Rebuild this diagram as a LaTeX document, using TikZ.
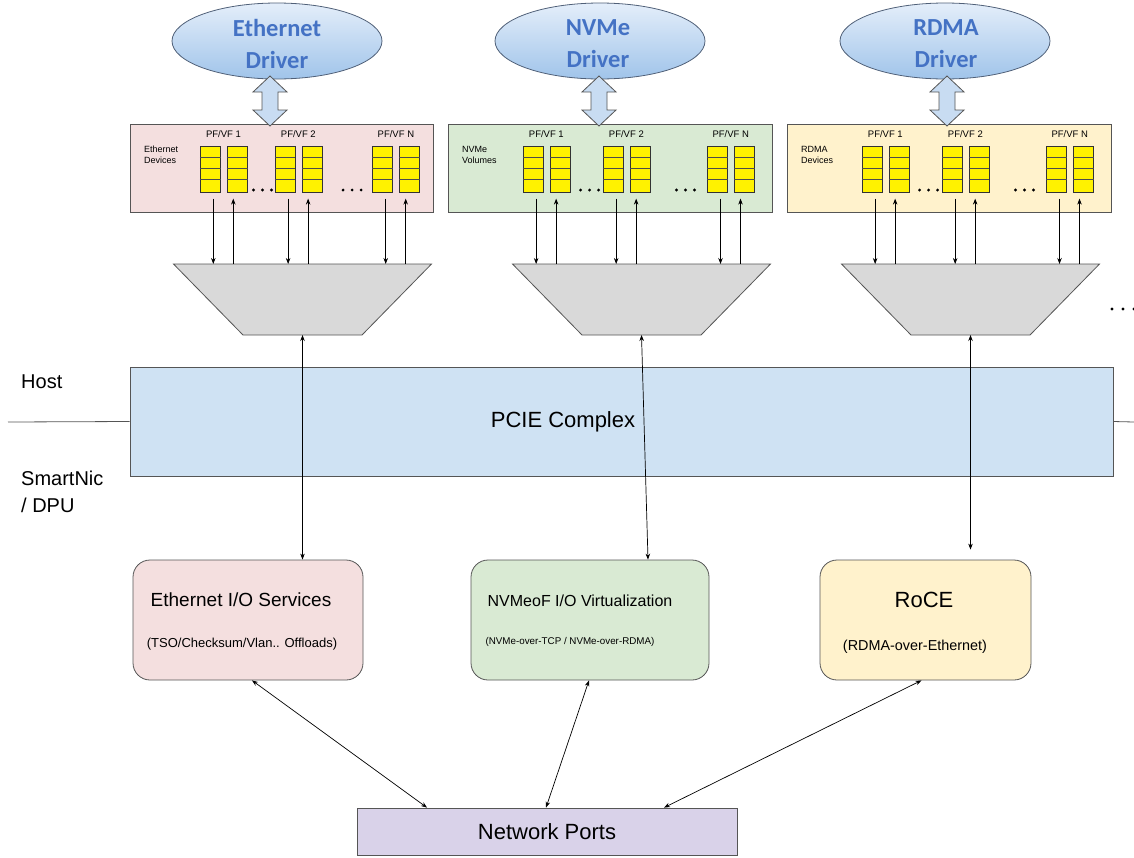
\documentclass[tikz,border=0pt]{standalone}
\usepackage{fontspec}
\setmainfont{Liberation Sans}
\newfontfamily\drvfont{Carlito}
\usetikzlibrary{arrows.meta,calc,shapes.geometric}

\definecolor{edge}{RGB}{85,85,85}
\definecolor{ethfill}{RGB}{244,223,223}
\definecolor{nvmfill}{RGB}{217,234,211}
\definecolor{rdmfill}{RGB}{255,242,204}
\definecolor{pciefill}{RGB}{207,226,243}
\definecolor{portfill}{RGB}{217,210,233}
\definecolor{muxfill}{RGB}{217,217,217}
\definecolor{drvtop}{RGB}{228,238,250}
\definecolor{drvbot}{RGB}{160,196,234}
\definecolor{drvtext}{RGB}{68,114,196}
\definecolor{drvline}{RGB}{80,96,120}
\definecolor{barfill}{RGB}{200,220,242}

\tikzset{
  drv/.style={ellipse, draw=drvline, line width=0.8pt, top color=drvtop,
    bottom color=drvbot, minimum width=210, minimum height=76, inner sep=0},
  drvtxt/.style={text=drvtext, align=center, inner sep=0,
    font=\drvfont\bfseries\fontsize{24.5}{32}\selectfont},
  devbox/.style={draw=edge, line width=0.8pt, anchor=north west, inner sep=0,
    minimum height=88},
  queue/.style={draw=black!80, fill=yellow, line width=0.6pt, anchor=north west,
    inner sep=0, minimum width=20, minimum height=46},
  cell/.style={draw=black!70, line width=0.5pt},
  tinytxt/.style={font=\fontsize{9}{11}\selectfont, align=left, inner sep=0},
  pftxt/.style={font=\fontsize{9.5}{11}\selectfont, inner sep=0},
  mux/.style={draw=edge, fill=muxfill, line width=0.8pt},
  bar/.style={draw=edge, fill=barfill, line width=0.8pt, line join=miter},
  conn/.style={line width=0.7pt, -{Stealth[length=6pt,width=4.5pt]}},
  biconn/.style={line width=0.7pt, {Stealth[length=6pt,width=4.5pt]}-{Stealth[length=6pt,width=4.5pt]}},
  svc/.style={draw=edge, line width=0.8pt, rounded corners=17, minimum height=120,
    inner sep=0},
  plainbox/.style={draw=edge, line width=0.8pt, inner sep=0},
  side/.style={font=\fontsize{20}{27}\selectfont, align=left, inner sep=0, anchor=west},
}

% hollow two-headed arrow between a driver and its device box
\newcommand\busarrow[1]{%
  \filldraw[bar] (#1,76) -- (#1+17,92) -- (#1+8,92) -- (#1+8,110) -- (#1+17,110)
    -- (#1,126) -- (#1-17,110) -- (#1-8,110) -- (#1-8,92) -- (#1-17,92) -- cycle;}

% device box with three queue pairs and the multiplexer below it
% #1 prefix, #2 left x, #3 width, #4 fill, #5 label, #6 mux centre x
\newcommand\devblock[6]{%
  \node[devbox, fill=#4, minimum width=#3] (#1box) at (#2,124) {};
  \node[tinytxt, anchor=north west] (#1lbl) at (#2+14,146) {#5};
  \coordinate (#1mt) at (#6,264);
  \coordinate (#1mb) at (#6,335);
  \filldraw[mux] (#6-129,264) -- (#6+129,264) -- (#6+59.5,335) -- (#6-59.5,335) -- cycle;
  \foreach \f/\n [count=\i] in {0.231/1,0.478/2,0.80/N}{
    \pgfmathsetmacro\qx{#2+\f*#3}
    \node[queue] (#1qa\i) at (\qx,146) {};
    \node[queue] (#1qb\i) at (\qx+27,146) {};
    \foreach \k in {11,22,33}{
      \draw[cell] ([yshift=-\k pt]#1qa\i.north west) -- ([yshift=-\k pt]#1qa\i.north east);
      \draw[cell] ([yshift=-\k pt]#1qb\i.north west) -- ([yshift=-\k pt]#1qb\i.north east);
    }
    \node[pftxt] (#1pf\i) at (\qx+23.5,134) {PF/VF \n};
    \draw[conn, shorten <=6pt] ([xshift=3pt]#1qa\i.south) -- ([xshift=3pt]#1qa\i.south |- #1mt);
    \draw[conn, shorten >=6pt] ([xshift=23pt]#1qa\i.south |- #1mt) -- ([xshift=23pt]#1qa\i.south);
  }
  \foreach \f in {0.437,0.733}{
    \pgfmathsetmacro\dx{#2+\f*#3}
    \foreach \d in {-9,0,9}{ \fill (\dx+\d,190) circle (1.6); }
  }
}

\begin{document}
\begin{tikzpicture}[x=1pt,y=-1pt]
\useasboundingbox (0,0) rectangle (1134,857);

% device groups
\devblock{e}{130}{303}{ethfill}{Ethernet\\Devices}{302.5}
\devblock{n}{448}{324}{nvmfill}{NVMe\\Volumes}{641.5}
\devblock{r}{787}{324}{rdmfill}{RDMA\\Devices}{970.5}

% drivers
\node[drv] (edrv) at (277,41) {};
\node[drv] (ndrv) at (600,41) {};
\node[drv] (rdrv) at (945,41) {};
\node[drvtxt] (edrvt) at (277,44) {Ethernet\\Driver};
\node[drvtxt] (ndrvt) at (598,44) {NVMe\\Driver};
\node[drvtxt] (rdrvt) at (946,44) {RDMA\\Driver};
\busarrow{270}
\busarrow{599}
\busarrow{947}

% more groups to the right
\foreach \d in {1112,1123,1134}{ \fill (\d,309) circle (1.7); }

% PCIe complex and host / DPU boundary
\node[plainbox, fill=pciefill, minimum width=983, minimum height=109] (pcie) at (621.5,421.5) {};
\node[font=\fontsize{22}{26}\selectfont, inner sep=0] (pciet) at (563,422) {PCIE Complex};
\coordinate (hl) at (8,422);
\coordinate (hr) at (1134,422);
\draw[edge, line width=0.8pt] (hl) -- (pcie.west);
\draw[edge, line width=0.8pt] (pcie.east) -- (hr);
\node[side] (host) at (21,382) {Host};
\node[side] (dpu) at (21,492) {SmartNic\\/ DPU};

% offload services
\node[svc, fill=ethfill, minimum width=230] (esvc) at (248,620) {};
\node[font=\fontsize{19}{22}\selectfont, inner sep=0] (esvct) at (241,600) {Ethernet I/O Services};
\node[font=\fontsize{13}{15}\selectfont, inner sep=0] (esvcs) at (242,644) {(TSO/Checksum/Vlan.. Offloads)};

\node[svc, fill=nvmfill, minimum width=238] (nsvc) at (590,620) {};
\node[font=\fontsize{16}{19}\selectfont, inner sep=0] (nsvct) at (580,601) {NVMeoF I/O Virtualization};
\node[font=\fontsize{9.8}{12}\selectfont, inner sep=0] (nsvcs) at (570,642) {(NVMe-over-TCP / NVMe-over-RDMA)};

\node[svc, fill=rdmfill, minimum width=211] (rsvc) at (925.5,620) {};
\node[font=\fontsize{22}{26}\selectfont, inner sep=0] (rsvct) at (924,600) {RoCE};
\node[font=\fontsize{14.4}{17}\selectfont, inner sep=0] (rsvcs) at (915,647) {(RDMA-over-Ethernet)};

% network ports
\node[plainbox, fill=portfill, minimum width=380, minimum height=47,
  font=\fontsize{22}{26}\selectfont] (np) at (547,831.5) {Network Ports};

% multiplexers to services, through the PCIe complex
\draw[biconn] (emb) -- (emb |- esvc.north);
\draw[biconn] (nmb) -- ([xshift=58pt]nsvc.north);
\draw[biconn] (rmb) -- ([yshift=10pt]rmb |- rsvc.north);

% services to network ports
\draw[biconn] ([xshift=4pt]esvc.south) -- ([xshift=-120pt]np.north);
\draw[biconn] ([xshift=-1pt]nsvc.south) -- ([xshift=-1pt]np.north);
\draw[biconn] ([xshift=-4pt]rsvc.south) -- ([xshift=117pt]np.north);
\end{tikzpicture}
\end{document}
